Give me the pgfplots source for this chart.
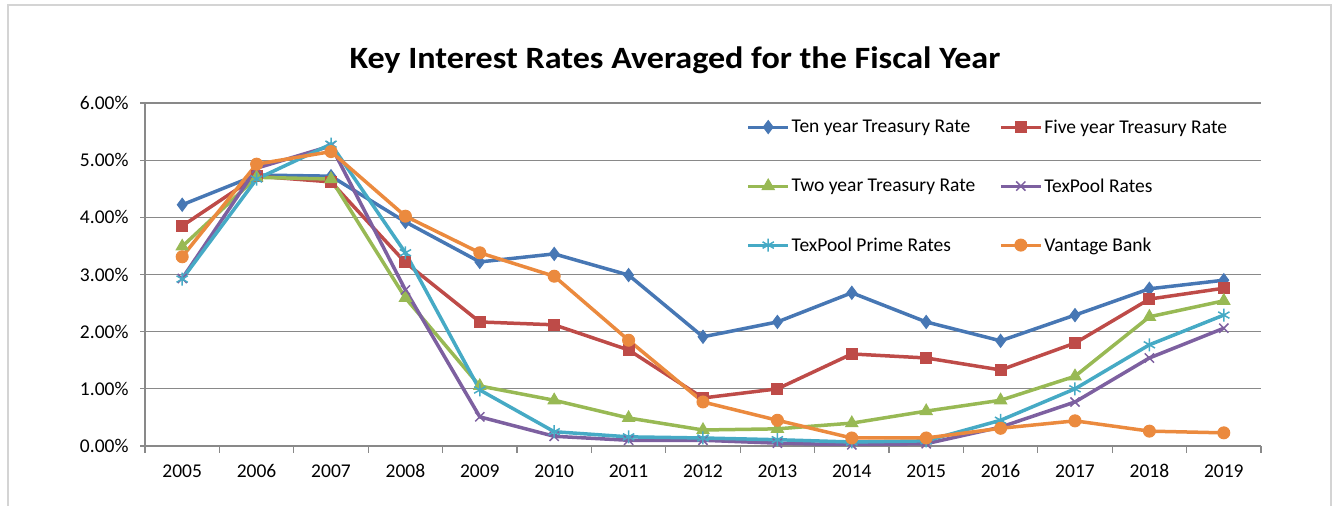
\documentclass[border=0pt]{standalone}
\usepackage{pgfplots}
\pgfplotsset{compat=1.18}
\usepackage{fontspec}
\setmainfont{Carlito}
\newfontfamily\titlefont[FakeStretch=1.1]{Carlito}
\usetikzlibrary{plotmarks}

\definecolor{cten}{HTML}{4777B4}
\definecolor{cfive}{HTML}{BE4B48}
\definecolor{ctwo}{HTML}{98B954}
\definecolor{ctex}{HTML}{7D60A0}
\definecolor{cprime}{HTML}{46AAC5}
\definecolor{cvan}{HTML}{EB8A3E}
\definecolor{axgray}{HTML}{898989}
\definecolor{bordergray}{HTML}{D4D4D4}

\pgfplotstableread{
year ten five two texpool prime vantage
2005 4.22 3.85 3.49 2.93 2.92 3.31
2006 4.74 4.72 4.70 4.86 4.67 4.93
2007 4.72 4.62 4.67 5.25 5.28 5.15
2008 3.92 3.21 2.59 2.73 3.38 4.02
2009 3.22 2.17 1.05 0.51 0.98 3.38
2010 3.36 2.12 0.80 0.17 0.25 2.97
2011 2.99 1.68 0.49 0.10 0.16 1.85
2012 1.91 0.84 0.28 0.10 0.14 0.77
2013 2.17 1.00 0.30 0.05 0.11 0.45
2014 2.68 1.61 0.40 0.02 0.07 0.14
2015 2.17 1.54 0.61 0.04 0.09 0.14
2016 1.84 1.33 0.80 0.33 0.45 0.31
2017 2.29 1.80 1.22 0.77 1.00 0.44
2018 2.75 2.57 2.26 1.54 1.77 0.26
2019 2.90 2.76 2.54 2.06 2.29 0.23
}\rates

\begin{document}
\begin{tikzpicture}[x=1pt,y=1pt]
\useasboundingbox (0,0) rectangle (1336,506);
% chart area border (bottom edge lies outside the page)
\draw[color=bordergray, line width=2pt] (8,-20) -- (8,501) -- (1331,501) -- (1331,-20);
\node[font=\fontsize{31}{36}\titlefont\bfseries] at (675,446) {Key Interest Rates Averaged for the Fiscal Year};
\begin{axis}[
    at={(145pt,60pt)}, anchor=south west,
    scale only axis, width=1116pt, height=343pt,
    xmin=2004.5, xmax=2019.5,
    ymin=0, ymax=6,
    xtick={2005,2006,...,2019},
    minor xtick={2004.5,2005.5,...,2019.5},
    ytick={0,1,...,6},
    xticklabel style={/pgf/number format/1000 sep={}, yshift=-10pt},
    yticklabel={\pgfmathprintnumber[fixed,fixed zerofill,precision=2]{\tick}\%},
    yticklabel style={xshift=-8pt},
    /pgf/number format/assume math mode=true,
    tick label style={font=\fontsize{19.5}{22}\selectfont},
    tick align=outside,
    major tick length=5pt,
    minor tick length=7pt,
    xtick style={draw=none},
    minor x tick style={draw=axgray, line width=1.2pt},
    ytick style={draw=axgray, line width=1.2pt},
    axis x line*=bottom, axis y line*=left,
    x axis line style={-, draw=axgray, line width=1.2pt},
    y axis line style={-, draw=axgray, line width=1.2pt},
    ymajorgrids,
    major grid style={draw=axgray, line width=1.2pt},
    every axis plot/.append style={line width=3.5pt},
    legend columns=2,
    legend style={at={(0.539,0.958)}, anchor=north west, draw=none, fill=none,
        font=\fontsize{19.5}{23}\selectfont, inner sep=0pt,
        /tikz/every even column/.append style={column sep=22pt},
        row sep=40pt},
    legend cell align=left,
    legend image code/.code={
        \draw[mark repeat=2,mark phase=2,line width=3pt] plot coordinates {(0pt,0pt) (20pt,0pt) (40pt,0pt)};},
]
\addplot[color=cten, mark=diamond*, mark size=6.5pt, mark options={solid,fill=cten,line width=1pt}] table[x=year,y=ten] {\rates};
\addlegendentry{Ten year Treasury Rate}
\addplot[color=cfive, mark=square*, mark size=5.5pt, mark options={solid,fill=cfive,line width=1pt}] table[x=year,y=five] {\rates};
\addlegendentry{Five year Treasury Rate}
\addplot[color=ctwo, mark=triangle*, mark size=7pt, mark options={solid,fill=ctwo,line width=1pt}] table[x=year,y=two] {\rates};
\addlegendentry{Two year Treasury Rate}
\addplot[color=ctex, mark=x, mark size=6.5pt, mark options={solid,line width=1.5pt}] table[x=year,y=texpool] {\rates};
\addlegendentry{TexPool Rates}
\addplot[color=cprime, mark=asterisk, mark size=6.5pt, mark options={solid,line width=1.5pt}] table[x=year,y=prime] {\rates};
\addlegendentry{TexPool Prime Rates}
\addplot[color=cvan, mark=*, mark size=6pt, mark options={solid,fill=cvan,line width=1pt}] table[x=year,y=vantage] {\rates};
\addlegendentry{Vantage Bank}
\end{axis}
\end{tikzpicture}
\end{document}
